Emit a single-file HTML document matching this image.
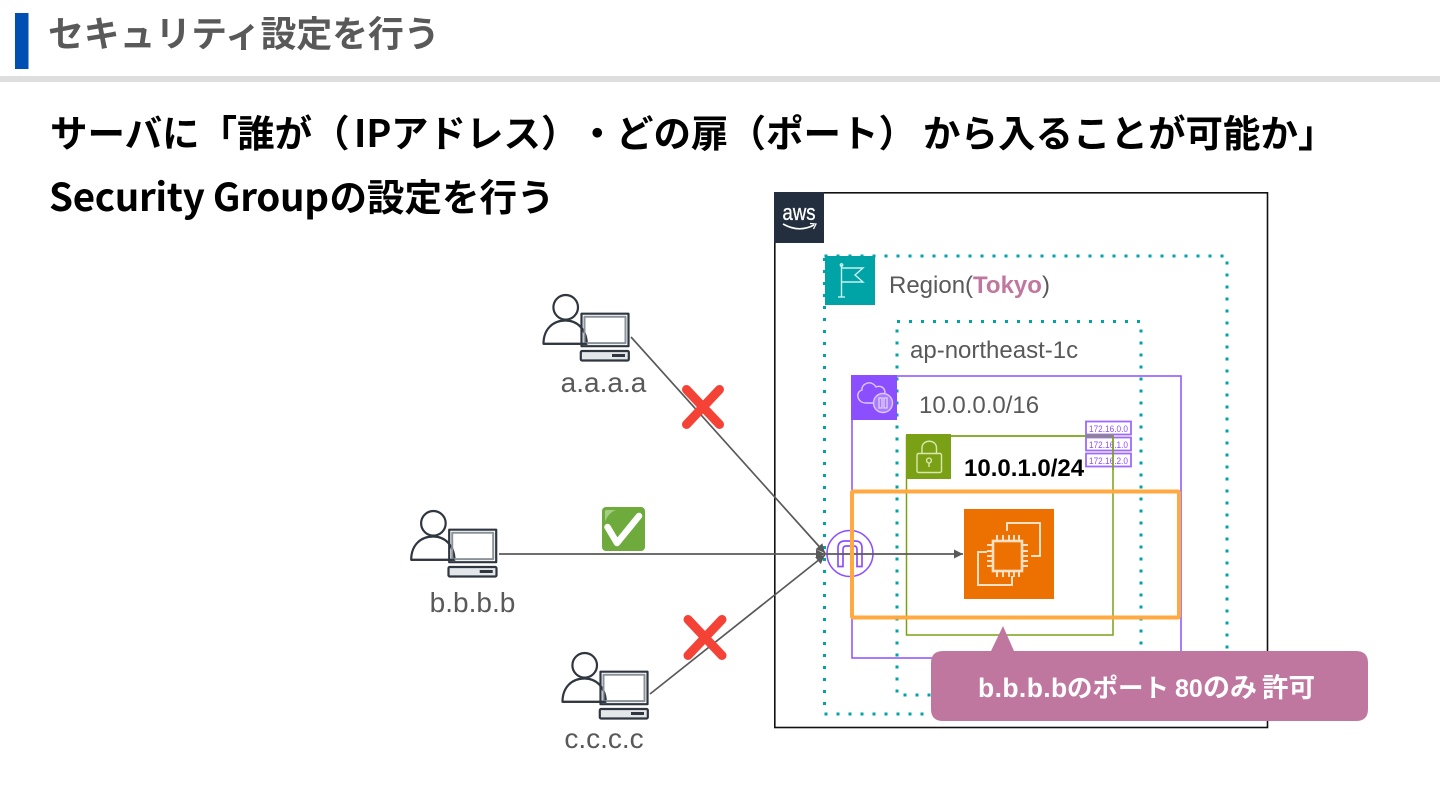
<!DOCTYPE html>
<html lang="ja">
<head>
<meta charset="utf-8">
<title>セキュリティ設定を行う</title>
<style>
html,body{margin:0;padding:0;background:#fff;width:1440px;height:810px;overflow:hidden}
svg{display:block;text-spacing-trim:space-all}
text{text-spacing-trim:space-all}
.jp{font-family:"Noto Sans CJK JP","Liberation Sans",sans-serif}
.la{font-family:"Liberation Sans","Noto Sans CJK JP",sans-serif}
</style>
</head>
<body>
<svg width="1440" height="810" viewBox="0 0 1440 810" xmlns="http://www.w3.org/2000/svg">
<defs>
<g id="client" fill="none" stroke-linejoin="round">
  <circle cx="565.7" cy="307.3" r="12.3" stroke="#2f3640" stroke-width="2.2"/>
  <path d="M543.5 343.8 C543.5 329 553 320.5 565.5 320.5 C577 320.5 586.5 329 586.8 343.8 Z" stroke="#2f3640" stroke-width="2.2" fill="#fff"/>
  <rect x="581.5" y="313.7" width="47" height="32.5" stroke="#2f3640" stroke-width="2.2" fill="none"/>
  <rect x="584.5" y="316.8" width="41" height="26.3" stroke="#8a929a" stroke-width="2" fill="none"/>
  <path d="M543.5 343.8 H586.8" stroke="#2f3640" stroke-width="2.2"/>
  <rect x="580.8" y="351" width="48" height="9.5" rx="1.2" stroke="#2f3640" stroke-width="2.2" fill="#e4e7ea"/>
  <rect x="612" y="354" width="13" height="3" fill="#2f3640"/>
</g>
<marker id="ah" viewBox="0 0 10 10" refX="10" refY="5" markerWidth="10" markerHeight="9" markerUnits="userSpaceOnUse" orient="auto"><path d="M0 0 L10 5 L0 10 Z" fill="#595959"/></marker>
</defs>

<!-- header -->
<rect x="15" y="13" width="13.5" height="56" fill="#0050b3"/>
<text class="jp" x="48" y="46.5" font-size="35.8" font-weight="700" fill="#595959">セキュリティ設定を行う</text>
<rect x="0" y="76" width="1440" height="6" fill="#dedede"/>

<text class="jp" y="147" font-size="37.5" font-weight="700" fill="#000"><tspan x="50">サーバに「誰が（</tspan><tspan x="354">IP</tspan><tspan x="391">アドレス）・どの扉（ポート）</tspan><tspan x="923">から入ることが可能か」</tspan></text>
<text class="jp" x="49" y="211" font-size="38.5" font-weight="700" fill="#000" textLength="280" lengthAdjust="spacing">Security Group</text>
<text class="jp" x="329.5" y="211" font-size="37.5" font-weight="700" fill="#000">の設定を行う</text>

<!-- AWS cloud -->
<rect x="774.8" y="192.8" width="492.7" height="534.7" fill="#fff" stroke="#111" stroke-width="1.6"/>
<rect x="774" y="192" width="50" height="51" fill="#232f3e"/>
<text class="la" x="799" y="220" font-size="22" fill="#fff" stroke="#fff" stroke-width=".3" text-anchor="middle" textLength="33" lengthAdjust="spacingAndGlyphs">aws</text>
<path d="M783 224 Q799 233 814 225" fill="none" stroke="#fff" stroke-width="1.6"/>
<path d="M810 223.5 L816 224 L813.5 229" fill="none" stroke="#fff" stroke-width="1.2"/>

<!-- VPC -->
<rect x="852" y="376" width="329" height="282" fill="none" stroke="#8c4fff" stroke-width="1.5"/>

<!-- Region + AZ dotted -->
<rect x="824.5" y="256" width="402.5" height="458" fill="none" stroke="#00a4a6" stroke-width="3" stroke-dasharray="3 9"/>
<rect x="897" y="321.5" width="244" height="373.5" fill="none" stroke="#00a4a6" stroke-width="3" stroke-dasharray="3 9"/>

<!-- Region icon -->
<rect x="825" y="256" width="50" height="49" fill="#01a4a6"/>
<g fill="none" stroke="#c8f0ef" stroke-width="1.4">
  <path d="M841.5 265 V297"/>
  <path d="M838 297 H845"/>
  <path d="M841.5 268 H863 L855 275 L863 282 H841.5"/>
  <circle cx="841.5" cy="265" r="1.2"/>
</g>
<text class="la" x="889" y="293" font-size="24" fill="#595959">Region(<tspan font-weight="700" fill="#c0779f">Tokyo</tspan>)</text>
<text class="la" x="910" y="358" font-size="24" fill="#595959">ap-northeast-1c</text>

<!-- VPC icon -->
<rect x="851" y="375" width="46" height="45" fill="#8c4fff"/>
<g fill="none" stroke="#dcc9ff" stroke-width="1.4">
  <path d="M873 403 H866 C857 403 855 392 862 390 C861 384 871 379 876 387 C881 385 885 388 885 393"/>
  <circle cx="883" cy="403" r="9.5" fill="#a97cff"/>
  <rect x="879" y="398" width="3" height="10"/>
  <rect x="884" y="398" width="3" height="10"/>
</g>
<text class="la" x="919" y="413" font-size="24" fill="#595959">10.0.0.0/16</text>

<!-- Subnet -->
<rect x="906.5" y="436" width="206.5" height="199" fill="none" stroke="#7aa116" stroke-width="1.5"/>
<rect x="906" y="434" width="45" height="45" fill="#7aa116"/>
<g fill="none" stroke="#d9e8ad" stroke-width="1.4">
  <rect x="917" y="453.5" width="24.5" height="19" rx="1.5"/>
  <path d="M922 453.5 V448 C922 439 936.5 439 936.5 448 V453.5"/>
  <circle cx="929" cy="460.5" r="2.4"/>
  <path d="M929 463 V467"/>
</g>
<text class="la" x="964" y="476" font-size="24" font-weight="700" fill="#000">10.0.1.0/24</text>

<!-- IP boxes -->
<g fill="none" stroke="#8c4fff" stroke-width="1.8" opacity=".85">
  <rect x="1086" y="421.5" width="45" height="13"/>
  <rect x="1086" y="437.5" width="45" height="13"/>
  <rect x="1086" y="453.5" width="45" height="13"/>
</g>
<g class="la" font-size="9.5" fill="#8c4fff" text-anchor="middle">
  <text x="1108.5" y="432" textLength="39" lengthAdjust="spacingAndGlyphs">172.16.0.0</text>
  <text x="1108.5" y="448" textLength="39" lengthAdjust="spacingAndGlyphs">172.16.1.0</text>
  <text x="1108.5" y="464" textLength="39" lengthAdjust="spacingAndGlyphs">172.16.2.0</text>
</g>
<path d="M951 436 H1113 V470" fill="none" stroke="#7aa116" stroke-width="1.5"/>

<!-- EC2 -->
<rect x="964" y="509" width="90" height="90" fill="#ed7100"/>
<g fill="none" stroke="#fde0c4" stroke-width="2">
  <path d="M1007 531 V523 H1040 V556 H1031"/>
  <path d="M987 552 H978 V585 H1012 V576"/>
  <rect x="993" y="541" width="29" height="30" stroke-width="2.6"/>
  <path d="M997 535 V541 M1003 535 V541 M1009 535 V541 M1014 535 V541 M1019 535 V541 M997 571 V577 M1003 571 V577 M1009 571 V577 M1014 571 V577 M1019 571 V577 M987 545 H993 M987 551 H993 M987 556 H993 M987 561 H993 M987 566 H993 M1022 545 H1028 M1022 551 H1028 M1022 556 H1028 M1022 561 H1028 M1022 566 H1028"/>
</g>

<!-- IGW -->
<circle cx="850" cy="553.5" r="23" fill="none" stroke="#8c4fff" stroke-width="1.5"/>
<g fill="none" stroke="#8c4fff" stroke-width="1.7">
  <path d="M838 566.5 V548 Q838 541 845 541 H855 Q862 541 862 548 V566.5 H857 V549.5 Q857 546 854 546 H846 Q843 546 843 549.5 V566.5 Z"/>
</g>

<!-- connectors -->
<g fill="none" stroke="#595959" stroke-width="1.7">
  <path d="M631 337 L825 553" marker-end="url(#ah)"/>
  <path d="M499 554 H825" marker-end="url(#ah)"/>
  <path d="M650 694 L825 555" marker-end="url(#ah)"/>
  <path d="M825 554 H963" marker-end="url(#ah)"/>
</g>

<!-- Orange security group -->
<rect x="852" y="491.5" width="327" height="126" rx="1" fill="none" stroke="#ffa940" stroke-width="4"/>

<!-- clients -->
<use href="#client"/>
<use href="#client" x="-132.3" y="216"/>
<use href="#client" x="19" y="358"/>
<g class="la" font-size="28" fill="#595959" text-anchor="middle">
  <text x="603.5" y="392">a.a.a.a</text>
  <text x="472.5" y="612">b.b.b.b</text>
  <text x="604" y="748">c.c.c.c</text>
</g>

<!-- marks -->
<g stroke="#f44336" stroke-width="9" stroke-linecap="round">
  <path d="M686.5 389.5 L719.5 424.5 M719.5 389.5 L686.5 424.5"/>
  <path d="M688 619.5 L722 655.5 M722 619.5 L688 655.5"/>
</g>
<rect x="602" y="507" width="43" height="44" rx="4" fill="#6eab3c"/>
<path d="M605 522 V511 Q605 510 606 510 H616 Q608 513 605 522 Z" fill="#a4cc84"/>
<path d="M607.5 527 L617 543 L639 516" fill="none" stroke="#fff" stroke-width="6.5" stroke-linecap="round" stroke-linejoin="round"/>

<!-- callout -->
<path d="M943 651 H991 L1003 626 L1014 651 H1356 Q1368 651 1368 663 V709 Q1368 721 1356 721 H943 Q931 721 931 709 V663 Q931 651 943 651 Z" fill="#c0779f"/>
<text class="la" y="697" font-weight="700" fill="#fff"><tspan x="978" font-size="26.5" letter-spacing=".4">b.b.b.b</tspan><tspan x="1067" font-size="25.5">のポート</tspan><tspan x="1175" font-size="25">80</tspan><tspan x="1203" font-size="27">のみ</tspan><tspan x="1262" font-size="26.5">許可</tspan></text>
</svg>
</body>
</html>
